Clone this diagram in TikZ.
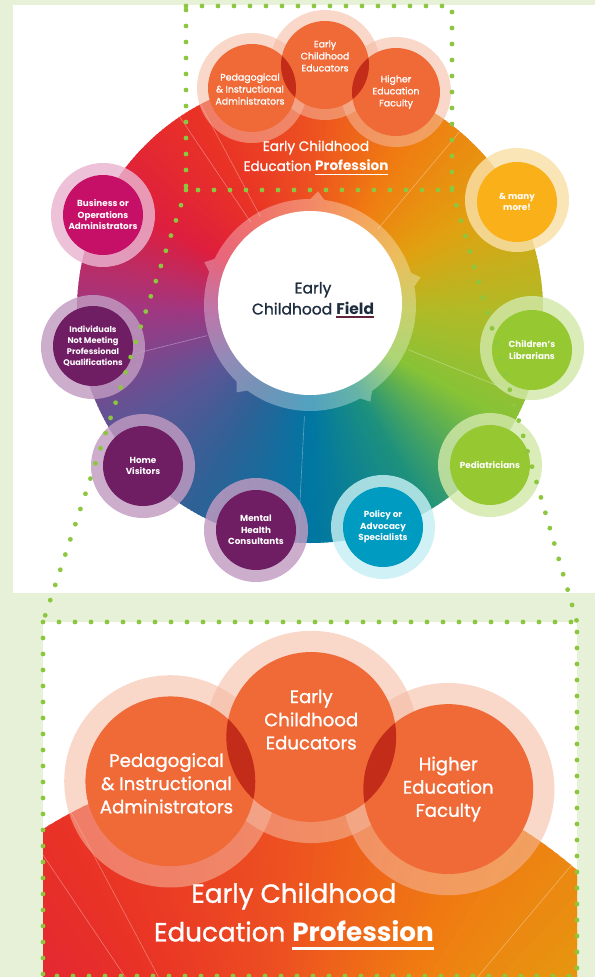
\documentclass[tikz,border=0pt]{standalone}
\usepackage{fontspec}
\setmainfont{Poppins}
\newfontfamily\medfont{Poppins}[FakeBold=1.1]
\definecolor{bgG}{RGB}{231,241,215}
\definecolor{dotG}{RGB}{141,198,63}
\definecolor{cc0}{RGB}{178,186,38}
\definecolor{cc1}{RGB}{226,160,16}
\definecolor{cc2}{RGB}{240,124,17}
\definecolor{cc3}{RGB}{237,80,33}
\definecolor{cc4}{RGB}{233,50,38}
\definecolor{cc5}{RGB}{222,30,62}
\definecolor{cc6}{RGB}{160,55,130}
\definecolor{cc7}{RGB}{95,85,150}
\definecolor{cc8}{RGB}{45,98,150}
\definecolor{cc9}{RGB}{0,118,163}
\definecolor{cc10}{RGB}{30,145,125}
\definecolor{cc11}{RGB}{135,195,55}
\definecolor{cc12}{RGB}{178,186,38}
\definecolor{navy}{RGB}{30,44,64}
\definecolor{maroon}{RGB}{100,35,60}
\definecolor{purpIn}{RGB}{112,30,100}
\definecolor{purpHalo}{RGB}{193,155,193}
\definecolor{bizIn}{RGB}{198,16,104}
\definecolor{bizHalo}{RGB}{234,180,208}
\definecolor{moreIn}{RGB}{250,176,25}
\definecolor{moreHalo}{RGB}{250,224,168}
\definecolor{polIn}{RGB}{0,155,192}
\definecolor{polHalo}{RGB}{198,240,245}
\definecolor{grnIn}{RGB}{150,200,50}
\definecolor{grnHalo}{RGB}{210,232,168}
\definecolor{profIn}{RGB}{240,106,56}
\definecolor{profHalo}{RGB}{245,185,160}
\definecolor{profDark}{RGB}{196,44,26}
\newcommand\uline[4]{\setbox0=\hbox{#4}\rlap{\color{#1}\rule[-#3]{\wd0}{#2}}\box0}
\tikzset{
  greendots/.style={draw=dotG, line width=4.8pt, line cap=round, dash pattern=on 0pt off 16pt},
  segline/.style={draw=white, draw opacity=0.35, line width=0.6pt},
  sathalo/.style={circle, minimum size=104pt, inner sep=0pt, draw=none, fill=#1, fill opacity=0.82},
  satin/.style={circle, minimum size=80pt, inner sep=0pt, draw=none, fill=#1, text=white,
    font=\fontsize{8.8}{11.5}\selectfont\bfseries, align=center},
  proflabel/.style={inner sep=0pt, text=white, font=\fontsize{9.4}{12}\selectfont\medfont, align=center},
  profhalo/.style={fill=profHalo, fill opacity=0.55},
}
\newcommand\conicring{%
  \begin{scope}[shift={(310,310)}]
    \foreach \t in {0,1,...,359}{%
      \pgfmathtruncatemacro\sg{floor(\t/30)}%
      \pgfmathtruncatemacro\ng{\sg+1}%
      \pgfmathtruncatemacro\pc{100-(\t-30*\sg)*10/3}%
      \edef\wcol{cc\sg!\pc!cc\ng}%
      \fill[fill=\wcol] (0,0) -- (-\t:233) arc[start angle=-\t, end angle=-\t-1.5, radius=233] -- cycle;
    }
    \foreach \t in {50,118,124,194,267,338}{\draw[segline] (-\t:106) -- (-\t:233);}
  \end{scope}}
\newcommand\profcircles[1]{%
  \fill[profhalo] (252,88) circle (55);
  \fill[profhalo] (325,65) circle (55);
  \fill[profhalo] (396,92) circle (55);
  \fill[profIn] (252,88) circle (44);
  \fill[profIn] (325,65) circle (44);
  \fill[profIn] (396,92) circle (44);
  \begin{scope}\clip (252,88) circle (44); \fill[profDark] (325,65) circle (44);\end{scope}
  \begin{scope}\clip (396,92) circle (44); \fill[profDark] (325,65) circle (44);\end{scope}
  \node[proflabel] (#1ped) at (250,89) {Pedagogical\\\& Instructional\\Administrators};
  \node[proflabel] (#1ece) at (325,56) {Early\\Childhood\\Educators};
  \node[proflabel] (#1hef) at (396,92) {Higher\\Education\\Faculty};
  \node[inner sep=0pt, text=white, font=\fontsize{13.6}{20}\selectfont, align=center] (#1title) at (316,158)
    {{\medfont Early Childhood}\\{\medfont Education} \uline{white}{1.4pt}{4.5pt}{\bfseries Profession}};
}
\begin{document}
\begin{tikzpicture}[x=1pt, y=-1pt]
\useasboundingbox (0,0) rectangle (595,977);
\fill[bgG] (0,0) rectangle (595,977);
\fill[white] (13,5) rectangle (595,593);
\fill[white] (43,622) rectangle (577,977);
% main ring
\conicring
% translucent ring with notches
\begin{scope}[shift={(310,305)}]
  \fill[white, fill opacity=0.32] (0,0) circle (106);
  \foreach \a in {14,86,158,230,302}{
    \fill[white, fill opacity=0.32] (-\a+3.8:106) -- (-\a:114) -- (-\a-3.8:106) arc[start angle=-\a-3.8, end angle=-\a+3.8, radius=106] -- cycle;
  }
\end{scope}
\node[circle, fill=white, minimum size=184pt, inner sep=0pt] (field) at (310,303) {};
\node[text=navy, font=\fontsize{15.5}{21}\selectfont, align=center] (fieldtxt) at (313,300)
  {{\medfont Early}\\{\medfont Childhood} \uline{maroon}{1.5pt}{3.5pt}{\bfseries Field}};
% satellites
\node[sathalo=bizHalo] (bizH) at (103,215) {};
\node[satin=bizIn] (biz) at (103,215) {Business or\\Operations\\Administrators};
\node[sathalo=moreHalo] (moreH) at (517,200) {};
\node[satin=moreIn] (more) at (517,202) {\& many\\more!};
\node[sathalo=purpHalo] (indH) at (93,347) {};
\node[satin=purpIn, font=\fontsize{8.2}{11}\selectfont\bfseries] (ind) at (93,346) {Individuals\\Not Meeting\\Professional\\Qualifications};
\node[sathalo=purpHalo] (homeH) at (143,466) {};
\node[satin=purpIn] (home) at (143,466) {Home\\Visitors};
\node[sathalo=purpHalo] (mentH) at (256,530) {};
\node[satin=purpIn] (ment) at (256,530) {Mental\\Health\\Consultants};
\node[sathalo=polHalo] (polH) at (383,527) {};
\node[satin=polIn] (pol) at (383,527) {Policy or\\Advocacy\\Specialists};
\node[sathalo=grnHalo] (pedH) at (490,465) {};
\node[satin=grnIn] (ped) at (490,465) {Pediatricians};
\node[sathalo=grnHalo] (libH) at (532,348) {};
\node[satin=grnIn] (lib) at (532,350) {Children’s\\Librarians};
% profession group (top)
\profcircles{t}
% magnified profession group (bottom)
\begin{scope}
  \clip (43,622) rectangle (577,977);
  \begin{scope}[shift={(-316,611.5)}, scale=1.93, transform shape]
    \conicring
    \profcircles{z}
  \end{scope}
\end{scope}
% dotted call-out
\coordinate (tl) at (186,6);
\coordinate (tr) at (452,6);
\coordinate (bl) at (186,190);
\coordinate (br) at (452,190);
\coordinate (ll) at (43,622);
\coordinate (lr) at (577,622);
\coordinate (lbl) at (43,976);
\coordinate (lbr) at (577,976);
\draw[greendots] (tl) -- (tr) -- (br) -- (bl) -- cycle;
\draw[greendots] (bl) -- (ll);
\draw[greendots] (br) -- (lr);
\draw[greendots] (ll) -- (lr) -- (lbr) -- (lbl) -- cycle;
\end{tikzpicture}
\end{document}
